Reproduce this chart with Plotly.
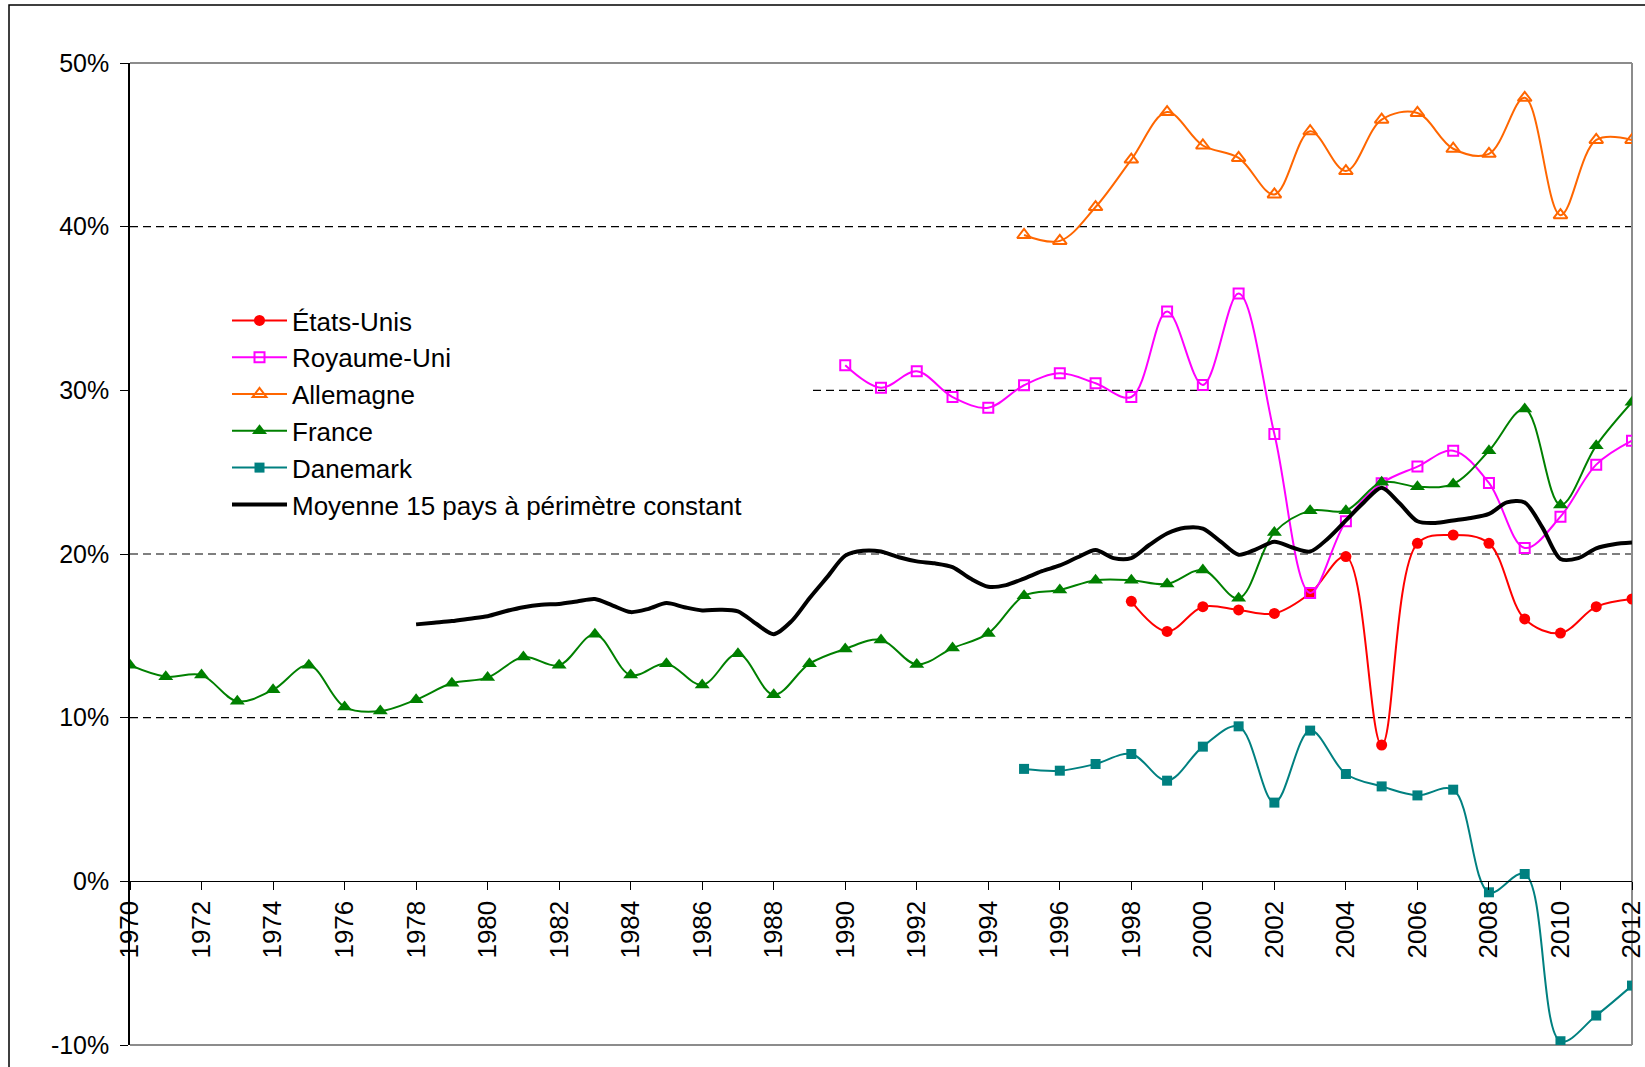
import numpy as np
import plotly.graph_objects as go

# ---------------- data (values in %) ----------------
years_fr = list(range(1970, 2013))
france = [13.2, 12.5, 12.6, 11.0, 11.7, 13.2, 10.65, 10.4, 11.1, 12.1, 12.45, 13.7, 13.2,
          15.1, 12.6, 13.3, 12.0, 13.9, 11.4, 13.3, 14.2, 14.75, 13.25, 14.25, 15.15,
          17.45, 17.8, 18.4, 18.4, 18.17, 19.02, 17.29, 21.32, 22.65, 22.65, 24.38,
          24.11, 24.28, 26.31, 28.86, 23.0, 26.62, 29.27]

years_us = list(range(1998, 2013))
etats_unis = [17.11, 15.27, 16.78, 16.58, 16.37, 17.6, 19.84, 8.33, 20.65, 21.16,
              20.65, 16.03, 15.17, 16.78, 17.25]

years_uk = list(range(1990, 2013))
royaume_uni = [31.53, 30.16, 31.16, 29.59, 28.94, 30.31, 31.04, 30.43, 29.59, 34.82,
               30.33, 35.91, 27.33, 17.62, 22.0, 24.32, 25.34, 26.31, 24.34, 20.37,
               22.28, 25.46, 26.92]

years_de = list(range(1995, 2013))
allemagne = [39.49, 39.13, 41.2, 44.1, 47.0, 44.96, 44.2, 41.97, 45.83, 43.4, 46.54,
             46.95, 44.76, 44.45, 47.87, 40.7, 45.3, 45.3]

years_dk = list(range(1995, 2013))
danemark = [6.87, 6.76, 7.17, 7.78, 6.15, 8.23, 9.47, 4.81, 9.21, 6.56, 5.8, 5.25,
            5.6, -0.67, 0.45, -9.77, -8.2, -6.37]

# Moyenne 15 pays : semi-annual readings 1978.0 .. 2012.0
periods_moy = list(np.arange(1978.0, 2012.01, 0.5))
moyenne = [15.7, 15.8, 15.9, 16.05, 16.2, 16.5, 16.75, 16.9, 16.95, 17.1,
           17.25, 16.85, 16.45, 16.65, 17.0, 16.75, 16.55, 16.6, 16.5, 15.75,
           15.1, 15.9, 17.3, 18.6, 19.9, 20.2, 20.15, 19.8, 19.55, 19.43,
           19.2, 18.5, 18.0, 18.1, 18.5, 18.95, 19.3, 19.8, 20.24, 19.75,
           19.75, 20.55, 21.25, 21.6, 21.55, 20.75, 19.95, 20.3, 20.75, 20.4,
           20.15, 20.95, 22.05, 23.15, 24.05, 23.1, 22.0, 21.9, 22.05, 22.2,
           22.45, 23.15, 23.15, 21.6, 19.7, 19.75, 20.35, 20.6, 20.7]

x_ticks = list(range(1970, 2013, 2))
y_ticks = [-10, 0, 10, 20, 30, 40, 50]
y_ticktext = ["-10%", "0%", "10%", "20%", "30%", "40%", "50%"]
grid_vals = [10, 20, 30, 40]

# ---------------- layout geometry ----------------
W, H = 1645, 1067
ML, MR, MT, MB = 130, 13, 63, 22
PW, PH = W - ML - MR, H - MT - MB
FONT = "Liberation Sans, Arial, sans-serif"

fig = go.Figure()

def add(name, x, y, color, symbol, size, width=2, open_marker=False):
    marker = dict(symbol=symbol, size=size, color=color)
    if open_marker:
        marker["line"] = dict(color=color, width=2)
    fig.add_trace(go.Scatter(
        x=x, y=y, name=name, mode="lines+markers",
        line=dict(color=color, width=width, shape="spline", smoothing=1.0),
        marker=marker, cliponaxis=True))

add("États-Unis", years_us, etats_unis, "#FF0000", "circle", 11)
add("Royaume-Uni", years_uk, royaume_uni, "#FF00FF", "square-open", 10, open_marker=True)
add("Allemagne", years_de, allemagne, "#FF6600", "triangle-up-open", 12, open_marker=True)
add("France", years_fr, france, "#008000", "triangle-up", 13)
add("Danemark", years_dk, danemark, "#008080", "square", 10)
fig.add_trace(go.Scatter(
    x=periods_moy, y=moyenne, name="Moyenne 15 pays à périmètre constant",
    mode="lines", line=dict(color="#000000", width=4, shape="spline", smoothing=0.8)))

# Dashed gridlines (the 30 % one is hidden behind the legend box on its left part)
legend_right_frac = (813 - ML) / PW
shapes = []
for g in grid_vals:
    shapes.append(dict(type="line", xref="paper", yref="y",
                       x0=legend_right_frac if g == 30 else 0, x1=1, y0=g, y1=g,
                       line=dict(color="black", width=1.2, dash="8px,5px"), layer="below"))
# grey plot frame (top, right, bottom)
frame = dict(color="#8c8c8c", width=2)
shapes.append(dict(type="line", xref="paper", yref="paper", x0=0, x1=1, y0=1, y1=1, line=frame, layer="below"))
shapes.append(dict(type="line", xref="paper", yref="paper", x0=1, x1=1, y0=0, y1=1, line=frame, layer="below"))
shapes.append(dict(type="line", xref="paper", yref="paper", x0=0, x1=1, y0=0, y1=0, line=frame, layer="below"))
# outer chart border
shapes.append(dict(type="rect", xref="paper", yref="paper",
                   x0=(9 - ML) / PW, x1=(W + 20 - ML) / PW,
                   y0=-(H + 20 - MT - PH) / PH, y1=1 + (MT - 5) / PH,
                   line=dict(color="black", width=1.5), layer="below"))

fig.update_layout(
    width=W, height=H,
    margin=dict(l=ML, r=MR, t=MT, b=MB, pad=0, autoexpand=False),
    paper_bgcolor="white", plot_bgcolor="white",
    font=dict(family=FONT, size=26, color="black"),
    showlegend=True,
    legend=dict(x=(227 - ML) / PW, y=1 - (297 - MT) / PH, xanchor="left", yanchor="top",
                bgcolor="rgba(255,255,255,0)", borderwidth=0,
                font=dict(family=FONT, size=26, color="black"),
                itemwidth=55, tracegroupgap=0, traceorder="normal"),
    shapes=shapes,
    xaxis=dict(range=[1970, 2012.0001], tickmode="array", tickvals=x_ticks,
               ticktext=[str(t) for t in x_ticks], tickangle=-90,
               ticks="outside", ticklen=8, tickcolor="black", tickwidth=1,
               showline=True, linecolor="black", linewidth=1,
               showgrid=False, zeroline=False, ticklabeloverflow="allow",
               automargin=False,
               anchor="free", position=(0 - (-10)) / (50 - (-10)),
               tickfont=dict(family=FONT, size=26, color="black")),
    yaxis=dict(range=[-10, 50], tickmode="array", tickvals=y_ticks, ticktext=y_ticktext,
               ticks="outside", ticklen=8, tickcolor="black", tickwidth=1,
               showline=True, linecolor="black", linewidth=1.5,
               showgrid=False, zeroline=False, ticklabelstandoff=6, automargin=False,
               tickfont=dict(family=FONT, size=25, color="black")),
)

fig.write_html("out.html", include_plotlyjs=True, full_html=True,
               config={"displayModeBar": False},
               post_script="document.body.style.margin='0';document.body.style.overflow='hidden';")
